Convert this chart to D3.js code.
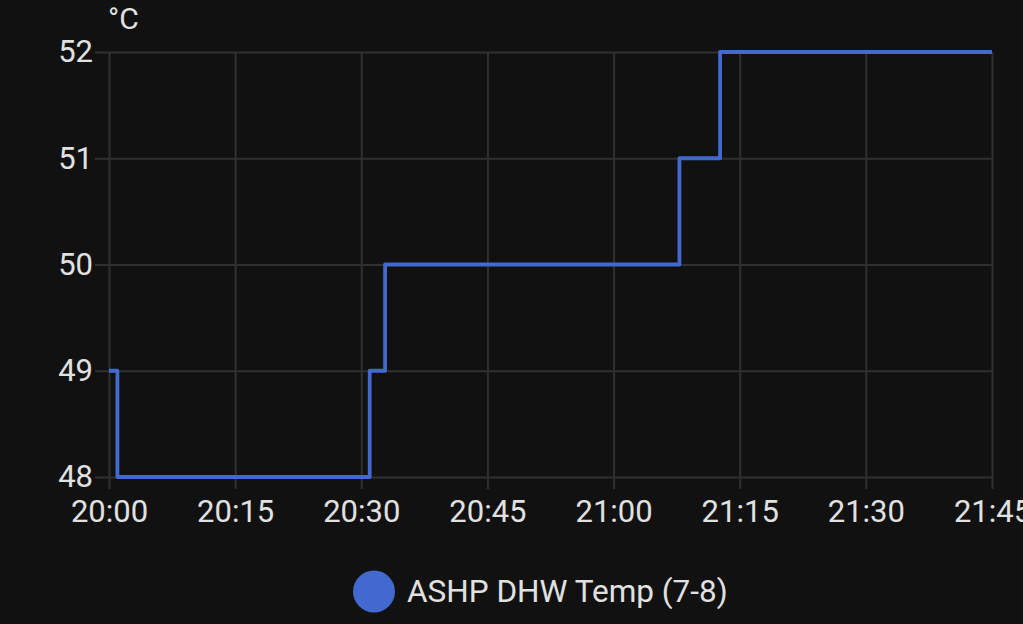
<!DOCTYPE html>
<html>
<head>
<meta charset="utf-8">
<script src="https://cdn.jsdelivr.net/npm/d3@7"></script>
<style>
  html, body { margin: 0; padding: 0; background: #111111; }
  svg { display: block; }
  text { font-family: Roboto, "Noto Sans", sans-serif; fill: #e1e1e1; }
</style>
</head>
<body>
<svg id="chart" width="1023" height="624"></svg>
<script>
// ---- data ----
const times = ["20:00:00", "20:01:00", "20:31:00", "20:32:50", "21:07:50", "21:12:40", "21:45:00"];
const temps = [49, 48, 49, 50, 51, 52, 52];
const seriesName = "ASHP DHW Temp (7-8)";
const unit = "°C";
const yTicks = [48, 49, 50, 51, 52];
const xTickLabels = ["20:00", "20:15", "20:30", "20:45", "21:00", "21:15", "21:30", "21:45"];

(function () {
const parse = d3.timeParse("%Y-%m-%d %H:%M:%S");
const day = "2024-01-01 ";
const data = times.map((t, i) => ({ t: parse(day + t), v: temps[i] }));
const xTickDates = xTickLabels.map(s => parse(day + s + ":00"));

// ---- layout ----
const svg = d3.select("#chart");
const pLeft = 109, pRight = 992, pTop = 52, pBottom = 477;
const color = "#4269d0";
const gridColor = "#303030";

const x = d3.scaleTime()
  .domain([xTickDates[0], xTickDates[xTickDates.length - 1]])
  .range([pLeft, pRight]);
const y = d3.scaleLinear().domain([48, 52]).range([pBottom, pTop]);

// Y axis with gridlines
const yAxis = svg.append("g")
  .attr("transform", `translate(95,0)`)
  .call(d3.axisLeft(y).tickValues(yTicks).tickFormat(d3.format("d"))
    .tickSize(-(pRight - 95)).tickPadding(2));
yAxis.select(".domain").remove();
yAxis.selectAll("line").attr("stroke", gridColor).attr("stroke-width", 2);
yAxis.selectAll("text").style("font-size", "31px").attr("fill", "#e1e1e1");

// X axis with gridlines
const xAxis = svg.append("g")
  .attr("transform", `translate(0,489)`)
  .call(d3.axisBottom(x).tickValues(xTickDates).tickFormat(d3.timeFormat("%H:%M"))
    .tickSize(-(489 - pTop)).tickPadding(11));
xAxis.select(".domain").remove();
xAxis.selectAll("line").attr("stroke", gridColor).attr("stroke-width", 2);
xAxis.selectAll("text").style("font-size", "31px").attr("fill", "#e1e1e1");

// unit label
svg.append("text").attr("x", 108).attr("y", 29).style("font-size", "30px").text(unit);

// step line
const line = d3.line().x(d => x(d.t)).y(d => y(d.v)).curve(d3.curveStepAfter);
svg.append("path").datum(data)
  .attr("d", line)
  .attr("fill", "none")
  .attr("stroke", color)
  .attr("stroke-width", 3.8)
  .attr("stroke-linejoin", "round");

// legend
svg.append("circle").attr("cx", 374).attr("cy", 591.5).attr("r", 21).attr("fill", color);
svg.append("text").attr("x", 407).attr("y", 602).style("font-size", "31.5px").text(seriesName);
})();
</script>
</body>
</html>
